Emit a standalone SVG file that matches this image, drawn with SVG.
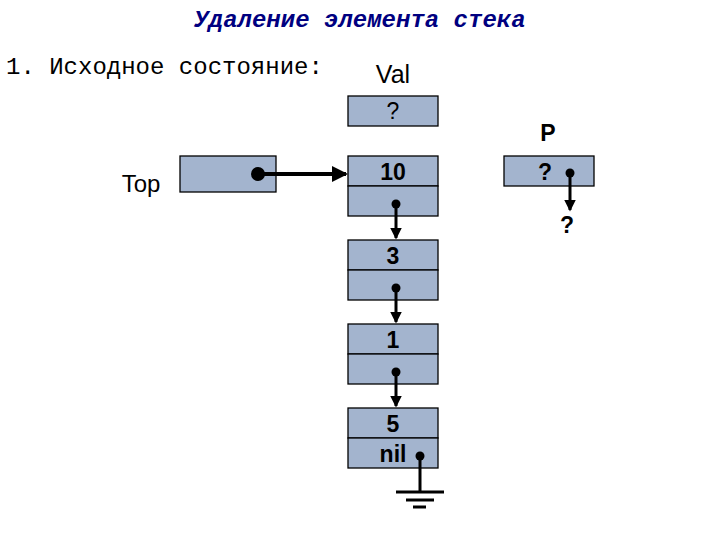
<svg xmlns="http://www.w3.org/2000/svg" width="720" height="540" viewBox="0 0 720 540">
<style>
.b{fill:#A3B4CE;stroke:#000;stroke-width:1.3}
.t{font-family:"Liberation Sans",Arial,sans-serif;font-size:23px;font-weight:bold;text-anchor:middle;fill:#000}
.m{font-family:"Liberation Mono","Courier New",monospace;font-size:24px;fill:#000}
.l{stroke:#000;stroke-width:3;fill:none}
</style>
<defs><marker id="a" markerWidth="4" markerHeight="4" refX="3.5" refY="2" orient="auto"><path d="M0,0L4,2L0,4z" fill="#000"/></marker></defs>
<rect width="720" height="540" fill="#fff"/>
<text x="360" y="27" class="m" text-anchor="middle" font-style="italic" font-weight="bold" font-size="27" style="fill:#000080">Удаление элемента стека</text>
<text x="6" y="74" class="m">1. Исходное состояние:</text>
<text x="393" y="83" class="t" style="font-size:25px;font-weight:normal">Val</text>
<text x="548" y="141" class="t">P</text>
<text x="141" y="192" class="t" style="font-weight:normal;font-size:24px">Top</text>
<g id="val"><rect class="b" x="348" y="96" width="90" height="30"/><text x="393" y="119" class="t" style="font-weight:normal">?</text></g>
<g id="top"><rect class="b" x="180" y="156" width="96" height="36"/></g>
<g id="n10"><rect class="b" x="348" y="156" width="90" height="30"/><rect class="b" x="348" y="186" width="90" height="30"/><text x="393" y="180" class="t">10</text></g>
<g id="p"><rect class="b" x="504" y="156" width="90" height="30"/><text x="545" y="180" class="t">?</text><text x="567" y="233" class="t">?</text></g>
<g id="n3"><rect class="b" x="348" y="240" width="90" height="30"/><rect class="b" x="348" y="270" width="90" height="30"/><text x="393" y="264" class="t">3</text></g>
<g id="n1"><rect class="b" x="348" y="324" width="90" height="30"/><rect class="b" x="348" y="354" width="90" height="30"/><text x="393" y="348" class="t">1</text></g>
<g id="n5"><rect class="b" x="348" y="408" width="90" height="30"/><rect class="b" x="348" y="438" width="90" height="30"/><text x="393" y="432" class="t">5</text><text x="393" y="462" class="t">nil</text></g>
<g id="connectors">
<circle cx="258" cy="174" r="7"/><line class="l" x1="258" y1="174" x2="346" y2="174" style="stroke-width:4" marker-end="url(#a)"/>
<circle cx="396" cy="204" r="4.5"/><line class="l" x1="396" y1="204" x2="396" y2="238" marker-end="url(#a)"/>
<circle cx="396" cy="288" r="4.5"/><line class="l" x1="396" y1="288" x2="396" y2="322" marker-end="url(#a)"/>
<circle cx="396" cy="372" r="4.5"/><line class="l" x1="396" y1="372" x2="396" y2="406" marker-end="url(#a)"/>
<circle cx="570" cy="173" r="4.5"/><line class="l" x1="570" y1="173" x2="570" y2="210" marker-end="url(#a)"/>
<circle cx="420" cy="456" r="4.5"/><line class="l" x1="420" y1="456" x2="420" y2="492"/>
<line class="l" x1="396" y1="492" x2="444" y2="492"/>
<line class="l" x1="406" y1="500" x2="434" y2="500"/>
<line class="l" x1="413" y1="507" x2="426" y2="507"/>
</g>
</svg>
